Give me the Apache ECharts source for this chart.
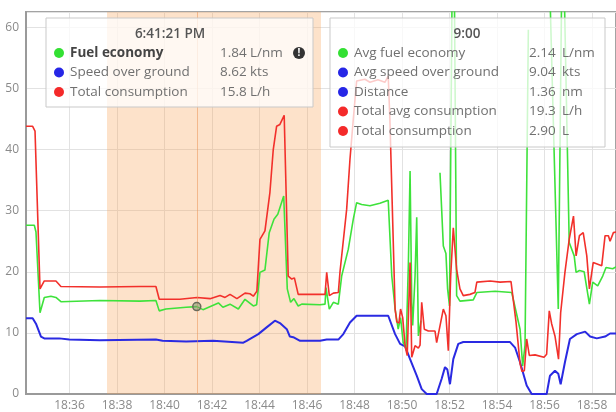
<!DOCTYPE html>
<html>
<head>
<meta charset="utf-8">
<script src="https://cdn.jsdelivr.net/npm/echarts@6/dist/echarts.min.js"></script>
<style>
  html, body { margin: 0; padding: 0; background: #fff; }
  #main { width: 616px; height: 412px; }
</style>
</head>
<body>
<div id="main"></div>
<script>
// times are minutes after 18:00
var consTimes = [34.17, 34.45, 34.55, 34.76, 34.94, 35.43, 35.64, 37.28, 38.97, 39.64, 39.78, 40.65, 41.37, 41.92, 42.34, 42.55, 42.76, 43.05, 43.39, 43.60,
  43.74, 43.89, 44.02, 44.23, 44.44, 44.58, 44.72, 44.86, 45.04, 45.21, 45.36, 45.47, 45.63, 46.55, 46.76, 46.83, 46.94, 47.11, 47.32, 47.39,
  47.67, 47.81, 47.95, 48.09, 48.44, 48.65, 48.99, 49.28, 49.42, 49.49, 49.71, 49.78, 49.87, 49.94, 50.03, 50.13, 50.22, 50.34, 50.41, 50.55,
  50.69, 50.76, 50.83, 50.94, 51.11, 51.39, 51.46, 51.74, 51.85, 51.95, 52.05, 52.16, 52.30, 52.44, 52.58, 52.86, 53.07, 53.15, 53.71, 54.13,
  54.59, 54.80, 54.97, 55.05, 55.15, 55.25, 55.36, 55.60, 55.98, 56.09, 56.20, 56.30, 56.44, 56.59, 56.68, 56.86, 57.04, 57.22, 57.33, 57.47,
  57.63, 57.78, 57.89, 58.05, 58.41, 58.55, 58.69, 58.76, 58.90, 59.10];
var consValues = [43.8, 43.8, 43.0, 17.2, 18.5, 18.5, 17.6, 17.5, 17.6, 17.6, 15.5, 15.5, 15.8, 15.6, 16.1, 15.8, 16.3, 15.6, 16.5, 16.4,
  16.0, 16.8, 25.3, 26.7, 33.0, 40.0, 43.8, 44.1, 45.6, 19.3, 18.8, 19.0, 16.3, 16.3, 16.3, 19.9, 16.1, 16.5, 16.6, 20.0,
  30.2, 38.4, 45.0, 51.2, 51.5, 51.0, 51.4, 51.0, 52.0, 45.0, 13.9, 11.8, 11.6, 13.9, 12.5, 7.9, 6.3, 21.5, 6.0, 7.9,
  7.5, 8.0, 15.0, 10.6, 10.3, 10.3, 8.4, 13.9, 12.8, 7.1, 19.3, 27.2, 20.4, 17.2, 16.1, 16.3, 16.6, 18.3, 18.5, 18.3,
  18.4, 11.8, 5.0, 3.7, 3.8, 9.0, 6.3, 6.4, 6.0, 6.5, 13.6, 11.5, 9.5, 5.7, 13.3, 19.9, 25.3, 29.1, 22.6, 25.9,
  26.4, 22.6, 17.2, 21.5, 21.0, 25.9, 25.9, 25.0, 26.4, 26.6];

var fuelTimes = [34.17, 34.52, 34.59, 34.76, 34.94, 35.22, 35.43, 35.64, 37.28, 38.97, 39.64, 39.78, 40.06, 40.91, 41.36, 41.62, 42.27, 42.46, 42.76, 43.11,
  43.39, 43.74, 43.88, 44.02, 44.23, 44.41, 44.61, 44.77, 45.02, 45.17, 45.31, 45.45, 45.63, 45.78, 46.55, 46.76, 46.80, 46.94, 47.11, 47.32,
  47.46, 47.74, 47.95, 48.09, 48.30, 48.65, 49.07, 49.42, 49.57, 49.71, 49.84, 49.94, 50.05, 50.17, 50.27, 50.34, 50.41, 50.45, 50.55, 50.62,
  50.69, 50.80, 51.20, 51.60, 51.74, 51.85, 51.92, 52.00, 52.16, 52.30, 52.44, 53.00, 53.15, 53.92, 54.62, 54.83, 54.97, 55.08, 55.18, 55.32,
  55.70, 56.13, 56.58, 56.76, 57.04, 57.25, 57.33, 57.47, 57.67, 57.89, 58.03, 58.24, 58.45, 58.59, 58.87, 59.10];
var fuelValues = [27.6, 27.6, 26.5, 13.3, 15.8, 16.0, 15.8, 15.1, 15.3, 15.2, 15.3, 13.6, 13.9, 14.2, 14.3, 13.8, 14.9, 14.2, 14.7, 13.9,
  15.5, 14.4, 14.6, 19.9, 20.3, 26.4, 28.6, 29.4, 32.4, 17.2, 15.0, 15.6, 14.4, 14.7, 14.6, 14.7, 17.4, 13.9, 15.0, 14.7,
  19.3, 23.7, 28.6, 31.3, 31.0, 30.8, 31.2, 31.7, 19.3, 13.9, 10.6, 12.5, 8.4, 7.5, 21.5, 36.5, 15.0, 11.2, 19.3, 28.9,
  9.5, 12.0, null, 36.2, 24.2, 23.0, 17.2, 14.4, 90, 16.1, 15.2, 15.4, 16.6, 16.8, 16.6, 13.0, 10.6, 4.6, 8.0, 59.6,
  null, 80, 13.9, 80, 24.8, 22.6, 19.9, 20.2, 20.0, 14.7, 18.3, 17.7, 19.3, 20.7, 20.5, 21.0];

var speedTimes = [34.17, 34.45, 34.59, 34.80, 34.94, 35.57, 35.99, 37.28, 39.64, 39.92, 40.91, 42.05, 43.32, 43.46, 43.95, 44.30, 44.65, 44.86, 45.15, 45.28,
  45.42, 45.71, 46.55, 46.83, 47.32, 47.53, 47.81, 48.09, 49.42, 49.71, 49.92, 50.13, 50.34, 50.62, 50.83, 51.04, 51.46, 51.67, 51.81, 51.91,
  52.02, 52.16, 52.37, 52.58, 53.28, 54.55, 54.76, 54.97, 55.25, 55.46, 56.09, 56.23, 56.44, 56.58, 56.68, 56.86, 57.07, 57.36, 57.71, 57.92,
  58.20, 58.55, 58.76, 59.10];
var speedValues = [12.4, 12.4, 11.5, 9.4, 9.1, 9.1, 8.9, 8.8, 8.9, 8.7, 8.6, 8.7, 8.4, 8.7, 9.8, 10.9, 12.0, 11.6, 10.6, 9.4,
  9.3, 8.7, 8.7, 8.9, 8.9, 9.8, 11.7, 12.8, 12.8, 9.8, 8.2, 7.8, 5.7, 3.0, 0.8, 0, 0, 2.5, 4.4, 4.0,
  1.6, 5.7, 8.2, 8.5, 8.5, 8.5, 7.6, 5.2, 1.4, 0, 0, 3.0, 3.8, 3.3, 1.6, 5.2, 9.0, 9.8, 10.2, 9.4,
  9.1, 9.4, 9.9, 9.9];

// x tick positions (minutes after 18:00), labelled 18:36 ... 18:58
var tickMinutes = [36, 38, 40, 42, 44, 46, 48, 50, 52, 54, 56, 58];

var bandStart = 37.58, bandEnd = 46.59;
var hoverTime = 41.36, hoverValue = 14.3;

var leftTipTitle = '6:41:21 PM';
var leftTipRows = [
  ['Fuel economy', '1.84', 'L/nm', '#33e033'],
  ['Speed over ground', '8.62', 'kts', '#2626e6'],
  ['Total consumption', '15.8', 'L/h', '#f42a2a']
];
var rightTipTitle = '9:00';
var rightTipRows = [
  ['Avg fuel economy', '2.14', 'L/nm', '#33e033'],
  ['Avg speed over ground', '9.04', 'kts', '#2626e6'],
  ['Distance', '1.36', 'nm', '#2626e6'],
  ['Total avg consumption', '19.3', 'L/h', '#f42a2a'],
  ['Total consumption', '2.90', 'L', '#f42a2a']
];

function pairs(times, values) {
  return times.map(function (m, i) { return [m, values[i]]; });
}

var font = '"Open Sans", sans-serif';
var tipFont = 13.5;

function tipBox(x, y, w, h, title, rows, valX, unitX, titleX, boldFirst) {
  var kids = [{
    type: 'rect', z: 100,
    shape: { x: 0, y: 0, width: w, height: h },
    style: { fill: 'rgba(255,255,255,0.75)', stroke: '#c9c9c9', lineWidth: 1 }
  }, {
    type: 'text', z: 101,
    style: { text: title, x: titleX, y: 16, align: 'center', verticalAlign: 'middle',
      fill: '#555', fontSize: tipFont, fontWeight: 600, fontFamily: font }
  }];
  rows.forEach(function (r, i) {
    var ry = 35 + i * 19.5;
    var bold = (i === 0 && boldFirst);
    kids.push({ type: 'circle', z: 101, shape: { cx: 13, cy: ry, r: 5 }, style: { fill: r[3] } });
    kids.push({ type: 'text', z: 101, style: { text: r[0], x: 24, y: ry, verticalAlign: 'middle',
      fill: bold ? '#444' : '#707070', fontSize: tipFont, fontWeight: bold ? 700 : 400, fontFamily: font } });
    kids.push({ type: 'text', z: 101, style: { text: r[1], x: valX, y: ry, verticalAlign: 'middle',
      fill: '#707070', fontSize: tipFont, fontFamily: font } });
    kids.push({ type: 'text', z: 101, style: { text: r[2], x: unitX, y: ry, verticalAlign: 'middle',
      fill: '#707070', fontSize: tipFont, fontFamily: font } });
  });
  return { type: 'group', x: x, y: y, z: 100, children: kids };
}

var leftBox = tipBox(46, 18, 267, 89, leftTipTitle, leftTipRows, 174, 204, 124, true);
// warning icon next to fuel economy
leftBox.children.push({ type: 'circle', z: 102, shape: { cx: 253, cy: 35, r: 6 }, style: { fill: '#333' } });
leftBox.children.push({ type: 'text', z: 103, style: { text: '!', x: 253, y: 35.5, align: 'center', verticalAlign: 'middle',
  fill: '#fff', fontSize: 10, fontWeight: 700, fontFamily: font } });
var rightBox = tipBox(330, 18, 275, 129, rightTipTitle, rightTipRows, 199, 232, 137, false);

var myChart = echarts.init(document.getElementById('main'));

var option = {
  backgroundColor: '#fff',
  animation: false,
  grid: {
    left: 26, right: 0, top: 12, bottom: 17,
    show: true, borderColor: '#a3a3a3', borderWidth: 2
  },
  xAxis: {
    type: 'value',
    min: 34.17,
    max: 59.01,
    axisLine: { lineStyle: { color: '#9a9a9a', width: 2 } },
    axisTick: { show: false, customValues: tickMinutes },
    axisLabel: {
      customValues: tickMinutes,
      color: '#8a8a8a', fontSize: 12, fontFamily: font, margin: 6,
      formatter: function (v) { return '18:' + String(Math.round(v)).padStart(2, '0'); }
    },
    splitLine: { show: true, lineStyle: { color: '#e2e2e2', width: 1 } }
  },
  yAxis: {
    type: 'value',
    min: 0, max: 62.5, interval: 10,
    axisLine: { show: true, lineStyle: { color: '#9a9a9a', width: 2 } },
    axisTick: { show: false },
    axisLabel: {
      color: '#8a8a8a', fontSize: 12, fontFamily: font, margin: 7,
      formatter: function (v) { return v % 10 === 0 ? String(v) : ''; }
    },
    splitLine: { lineStyle: { color: '#e2e2e2', width: 1 } }
  },
  series: [{
    name: 'Speed over ground',
    type: 'line',
    data: pairs(speedTimes, speedValues),
    showSymbol: false,
    lineStyle: { color: '#2a2ae2', width: 2 },
    itemStyle: { color: '#2a2ae2' }
  }, {
    name: 'Fuel economy',
    type: 'line',
    data: pairs(fuelTimes, fuelValues),
    showSymbol: false,
    connectNulls: false,
    lineStyle: { color: '#3ee23b', width: 1.6 },
    itemStyle: { color: '#3ee23b' }
  }, {
    name: 'Total consumption',
    type: 'line',
    data: pairs(consTimes, consValues),
    showSymbol: false,
    lineStyle: { color: '#f2302b', width: 1.6 },
    itemStyle: { color: '#f2302b' },
    markArea: {
      silent: true,
      z: 3,
      itemStyle: { color: 'rgba(250,160,80,0.3)' },
      data: [[{ xAxis: bandStart }, { xAxis: bandEnd }]]
    },
    markLine: {
      silent: true,
      symbol: ['none', 'none'],
      label: { show: false },
      lineStyle: { color: 'rgba(235,150,90,0.55)', type: 'solid', width: 1 },
      data: [{ xAxis: hoverTime }]
    },
    markPoint: {
      silent: true,
      symbol: 'circle',
      symbolSize: 8,
      label: { show: false },
      itemStyle: { color: 'rgba(130,150,110,0.55)', borderColor: '#6a6a5a', borderWidth: 1.5 },
      data: [{ coord: [hoverTime, hoverValue] }]
    }
  }],
  graphic: [leftBox, rightBox]
};

myChart.setOption(option);
</script>
</body>
</html>
